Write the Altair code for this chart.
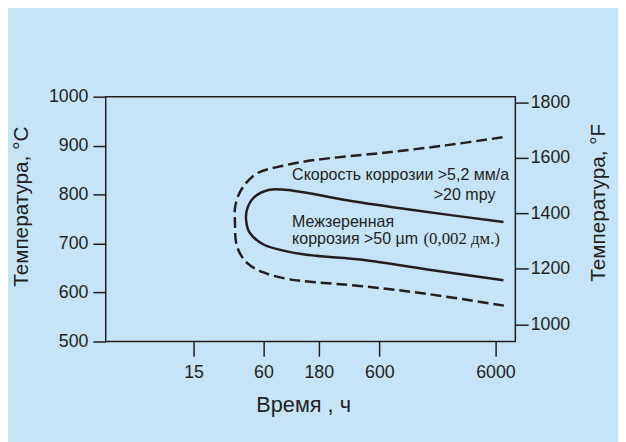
import altair as alt
import pandas as pd

# Outer dashed C-curve (corrosion rate > 5.2 mm/a), traced along the path
dash_t = [6900, 2300, 632, 170, 89, 52.5, 39.1, 34.4, 34.1, 35.5, 43.1, 60.1, 100, 170, 427, 1556, 7180]
dash_c = [917, 901, 885, 871, 859, 843, 812, 778, 742, 694, 661, 641, 627, 621, 613, 597, 573]

# Inner solid C-curve (intergranular corrosion > 50 µm)
solid_t = [7035, 1207, 324, 108, 67.7, 49.5, 43.1, 42.7, 45.7, 60.1, 100, 170, 427, 1556, 7035]
solid_c = [744, 768, 788, 808, 810, 794, 768, 744, 722, 698, 683, 675, 667, 647, 625]

x_ticks = [15, 60, 180, 600, 6000]
c_ticks = [500, 600, 700, 800, 900, 1000]
f_ticks = [1000, 1200, 1400, 1600, 1800]

# annotations: text, time anchor, °C anchor
left_texts = ["Скорость коррозии >5,2 мм/а", "Межзеренная", "коррозия >50 µm"]
left_t = [106, 106, 106]
left_c = [830, 734.5, 699.6]
right_texts = [">20 mpy"]
right_t = [6012]
right_c = [789.3]
serif_texts = ["(0,002 дм.)"]
serif_t = [1440]
serif_c = [699.6]

INK = "#231f20"
BG = "#c5e4f7"

dash_df = pd.DataFrame({"t": dash_t, "c": dash_c, "o": list(range(len(dash_t)))})
solid_df = pd.DataFrame({"t": solid_t, "c": solid_c, "o": list(range(len(solid_t)))})
lt_df = pd.DataFrame({"t": left_t, "c": left_c, "label": left_texts})
rt_df = pd.DataFrame({"t": right_t, "c": right_c, "label": right_texts})
st_df = pd.DataFrame({"t": serif_t, "c": serif_c, "label": serif_texts})
f_df = pd.DataFrame({"f": f_ticks})

X = alt.X(
    "t:Q",
    scale=alt.Scale(type="log", domain=[2.62, 8910], nice=False),
    axis=alt.Axis(
        values=x_ticks, format="d", title="Время , ч", tickSize=15, labelPadding=7,
        titleFontSize=22, titleX=200, titleY=71, titleBaseline="alphabetic",
        titleAlign="center",
    ),
)
Y = alt.Y(
    "c:Q",
    scale=alt.Scale(domain=[500, 1000], nice=False, zero=False),
    axis=alt.Axis(
        values=c_ticks, format="d", title="Температура, °C", tickSize=13, labelPadding=5,
        titleFontSize=21, titleAngle=270, titleX=-85, titleY=111,
        titleBaseline="middle", titleAlign="center",
    ),
)

dashed = alt.Chart(dash_df).mark_line(
    color=INK, strokeWidth=2.5, strokeDash=[11, 5], interpolate="catmull-rom"
).encode(x=X, y=Y, order="o:Q")

solid = alt.Chart(solid_df).mark_line(
    color=INK, strokeWidth=2.5, interpolate="catmull-rom"
).encode(x=X, y=Y, order="o:Q")

t_left = alt.Chart(lt_df).mark_text(
    align="left", baseline="alphabetic", font="Liberation Sans", fontSize=16.2, color=INK
).encode(x=X, y=Y, text="label:N")
t_right = alt.Chart(rt_df).mark_text(
    align="right", baseline="alphabetic", font="Liberation Sans", fontSize=16.2, color=INK
).encode(x=X, y=Y, text="label:N")
t_serif = alt.Chart(st_df).mark_text(
    align="left", baseline="alphabetic", font="Liberation Serif", fontSize=17, color=INK
).encode(x=X, y=Y, text="label:N")

left = alt.layer(dashed, solid, t_left, t_right, t_serif)

right = alt.Chart(f_df).mark_point(opacity=0).encode(
    y=alt.Y(
        "f:Q",
        scale=alt.Scale(domain=[938, 1820], nice=False, zero=False),
        axis=alt.Axis(
            orient="right", values=f_ticks, format="d", title="Температура, °F", tickSize=13,
            labelPadding=2, titleFontSize=21, titleAngle=270, titleX=84, titleY=107,
            titleBaseline="middle", titleAlign="center",
        ),
    )
)

chart = (
    alt.layer(left, right)
    .resolve_scale(y="independent")
    .properties(
        width=415,
        height=248,
        background=BG,
        padding={"left": 99, "top": 87, "right": 104, "bottom": 99},
        autosize=alt.AutoSizeParams(type="none"),
    )
    .configure_view(stroke=INK, strokeWidth=1.5)
    .configure_axis(
        grid=False,
        domain=False,
        labelFont="Liberation Sans",
        labelFontSize=18,
        labelColor=INK,
        tickColor=INK,
        tickWidth=1.5,
        titleFont="Liberation Sans",
        titleFontWeight="normal",
        titleColor=INK,
    )
)

chart.save("out.html", embed_options={"renderer": "svg", "actions": False})
